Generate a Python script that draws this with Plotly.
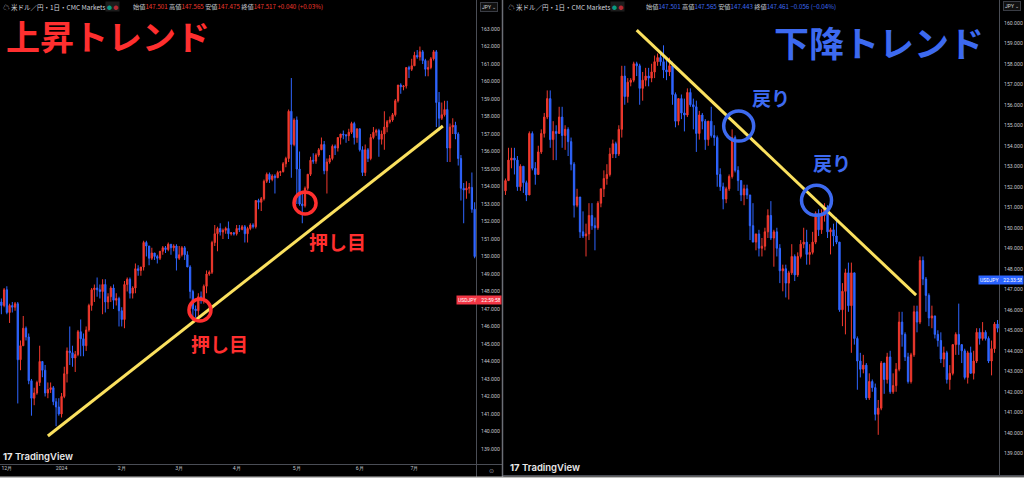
import plotly.graph_objects as go

W, H = 1024, 478

# ---------------- data : left panel (uptrend, daily USD/JPY) ----------------
left_open = [147.4, 147.2, 148.1, 146.8, 147.2, 147.1, 147.3, 144.1, 144.9, 145.9,
             145.4, 142.9, 141.9, 142.2, 142.8, 144.0, 143.5, 142.2, 142.4, 142.5,
             141.7, 141.4, 141.0, 142.0, 143.3, 144.6, 144.5, 144.2, 144.4, 145.7,
             145.3, 144.9, 145.8, 147.2, 148.1, 148.2, 148.1, 148.0, 148.4, 147.4,
             147.7, 148.2, 147.5, 147.6, 146.9, 146.4, 148.4, 148.7, 147.9, 148.2,
             149.3, 149.2, 149.4, 150.8, 150.6, 149.9, 150.2, 150.0, 149.9, 150.3,
             150.5, 150.4, 150.7, 150.5, 150.6, 149.9, 150.1, 150.5, 150.1, 149.4,
             148.0, 147.0, 146.9, 147.7, 147.6, 148.3, 149.0, 149.1, 150.8, 151.3,
             151.6, 151.4, 151.5, 151.6, 151.3, 151.35, 151.3, 151.6, 151.55, 151.7,
             151.3, 151.6, 151.8, 151.7, 153.2, 153.1, 153.3, 154.3, 154.7, 154.4,
             154.6, 154.5, 154.8, 154.85, 155.3, 155.6, 158.3, 156.4, 157.8, 155.0,
             153.0, 152.9, 153.9, 154.7, 155.5, 155.45, 155.8, 156.1, 156.4, 154.9,
             155.4, 155.6, 156.3, 156.2, 156.8, 157.0, 156.95, 156.9, 157.1, 157.6,
             156.8, 157.3, 156.1, 154.8, 156.1, 155.6, 156.8, 157.1, 157.2, 156.7,
             157.0, 157.4, 157.7, 157.8, 158.1, 158.9, 159.8, 159.7, 159.75, 160.8,
             160.7, 160.9, 161.5, 161.4, 161.7, 161.2, 160.7, 160.8, 161.3, 161.7,
             158.8, 157.9, 158.1, 158.4, 156.2, 157.4, 157.5, 157.0, 155.6, 153.9,
             153.8, 153.9, 153.95, 152.7]
left_high = [147.6, 148.2, 148.3, 147.3, 147.4, 147.4, 147.4, 145.2, 146.6, 146.0,
             145.6, 143.0, 142.5, 142.9, 144.9, 144.0, 143.8, 142.8, 142.8, 142.6,
             141.9, 141.9, 142.2, 143.7, 144.8, 146.0, 144.9, 144.6, 145.8, 146.4,
             145.6, 146.0, 147.3, 148.2, 148.4, 148.8, 148.4, 148.7, 148.7, 147.9,
             148.3, 148.4, 147.9, 147.7, 147.1, 148.6, 148.8, 148.8, 148.3, 149.6,
             149.5, 149.4, 150.9, 150.9, 150.6, 150.5, 150.2, 150.1, 150.3, 150.6,
             150.6, 150.8, 150.7, 150.7, 150.7, 150.6, 150.6, 150.6, 150.3, 149.5,
             148.1, 147.2, 147.9, 148.0, 148.4, 149.2, 149.2, 150.9, 151.8, 151.7,
             151.9, 151.6, 151.7, 152.0, 151.4, 151.4, 151.8, 151.8, 151.8, 151.8,
             151.7, 151.9, 151.9, 153.2, 153.3, 153.4, 154.4, 154.8, 154.8, 154.7,
             154.7, 154.9, 154.9, 155.4, 155.7, 158.4, 160.2, 157.9, 158.0, 156.0,
             153.6, 154.0, 154.7, 155.7, 155.9, 155.9, 156.2, 156.8, 156.6, 155.6,
             155.8, 156.4, 156.4, 156.8, 157.0, 157.2, 157.0, 157.3, 157.7, 157.7,
             157.3, 157.3, 156.3, 156.4, 156.2, 157.0, 157.4, 157.3, 157.3, 157.2,
             158.3, 157.8, 158.0, 158.2, 159.0, 159.8, 159.9, 159.8, 160.8, 160.9,
             161.3, 161.7, 161.8, 162.0, 161.8, 161.3, 161.2, 161.4, 161.8, 161.8,
             159.4, 158.8, 158.9, 158.9, 157.6, 157.9, 157.7, 157.1, 155.8, 154.2,
             154.3, 154.2, 154.8, 153.1]
left_low = [146.7, 147.1, 146.7, 146.2, 146.8, 146.9, 141.6, 143.5, 144.9, 145.2,
            142.7, 140.9, 141.5, 142.1, 142.6, 143.1, 142.0, 141.9, 142.2, 141.5,
            140.3, 140.9, 140.8, 141.9, 142.8, 143.8, 143.7, 143.4, 144.3, 144.3,
            144.3, 144.6, 145.7, 146.9, 147.4, 147.7, 147.6, 146.7, 146.8, 147.0,
            147.4, 147.0, 147.2, 146.0, 146.0, 145.9, 148.0, 147.6, 147.6, 147.9,
            148.9, 148.9, 149.2, 150.0, 149.5, 149.8, 149.8, 149.6, 149.8, 150.1,
            150.2, 150.3, 150.1, 150.3, 149.2, 149.8, 150.0, 149.8, 149.4, 147.6,
            146.5, 146.5, 146.6, 147.3, 147.3, 147.9, 148.9, 149.0, 150.6, 150.3,
            151.2, 151.0, 151.3, 151.0, 151.2, 151.2, 151.2, 151.4, 151.5, 150.8,
            150.8, 151.5, 151.6, 151.6, 152.7, 152.6, 153.2, 154.2, 154.2, 154.3,
            153.6, 154.5, 154.6, 154.8, 155.1, 155.4, 154.5, 156.3, 153.0, 152.9,
            151.9, 152.8, 153.8, 154.6, 155.3, 155.3, 155.7, 156.1, 154.7, 153.6,
            155.3, 155.5, 155.8, 156.0, 156.4, 156.7, 156.5, 156.6, 157.0, 156.4,
            156.5, 156.0, 154.6, 154.6, 155.4, 155.5, 156.7, 156.9, 155.7, 156.4,
            156.1, 157.1, 157.6, 157.7, 158.0, 158.8, 159.3, 159.5, 159.6, 160.2,
            160.6, 160.9, 161.3, 161.2, 161.0, 160.3, 160.3, 160.7, 161.2, 157.4,
            157.2, 157.8, 158.0, 155.4, 155.4, 157.0, 156.7, 155.2, 153.2, 151.9,
            153.3, 153.6, 152.5, 149.9]
left_close = [147.2, 148.1, 146.8, 147.2, 147.1, 147.3, 144.1, 144.9, 145.9, 145.4,
              142.9, 141.9, 142.2, 142.8, 144.0, 143.5, 142.2, 142.4, 142.5, 141.7,
              141.4, 141.0, 142.0, 143.3, 144.6, 144.5, 144.2, 144.4, 145.7, 145.3,
              144.9, 145.8, 147.2, 148.1, 148.2, 148.1, 148.0, 148.4, 147.4, 147.7,
              148.2, 147.5, 147.6, 146.9, 146.4, 148.4, 148.7, 147.9, 148.2, 149.3,
              149.2, 149.4, 150.8, 150.6, 149.9, 150.2, 150.0, 149.9, 150.3, 150.5,
              150.4, 150.7, 150.5, 150.6, 149.9, 150.1, 150.5, 150.1, 149.4, 148.0,
              147.0, 146.9, 147.7, 147.6, 148.3, 149.0, 149.1, 150.8, 151.3, 151.6,
              151.4, 151.5, 151.6, 151.3, 151.35, 151.3, 151.6, 151.55, 151.7, 151.3,
              151.6, 151.8, 151.7, 153.2, 153.1, 153.3, 154.3, 154.7, 154.4, 154.6,
              154.5, 154.8, 154.85, 155.3, 155.6, 158.3, 156.4, 157.8, 155.0, 153.0,
              152.9, 153.9, 154.7, 155.5, 155.45, 155.8, 156.1, 156.4, 154.9, 155.4,
              155.6, 156.3, 156.2, 156.8, 157.0, 156.95, 156.9, 157.1, 157.6, 156.8,
              157.3, 156.1, 154.8, 156.1, 155.6, 156.8, 157.1, 157.2, 156.7, 157.0,
              157.4, 157.7, 157.8, 158.1, 158.9, 159.8, 159.7, 159.75, 160.8, 160.7,
              160.9, 161.5, 161.4, 161.7, 161.2, 160.7, 160.8, 161.3, 161.7, 158.8,
              157.9, 158.1, 158.4, 156.2, 157.4, 157.5, 157.0, 155.6, 153.9, 153.8,
              153.9, 153.95, 152.7, 150.0]
left_month_idx = [2, 22, 44, 65, 86, 108, 131, 151]
left_month_lbl = ["12月", "2024", "2月", "3月", "4月", "5月", "6月", "7月"]
left_price_ticks = list(range(139, 164))
left_trend_x = [17.0, 161.4]
left_trend_y = [139.74, 157.46]
left_mark_x = [72.6, 111.0]
left_mark_y = [146.94, 153.06]
left_label_x = [79.9, 122.7]
left_label_y = [145.0, 150.83]
left_last_price = 147.517

# ---------------- data : right panel (downtrend, daily USD/JPY) ----------------
right_open = [151.8, 152.3, 153.3, 153.4, 153.3, 152.0, 153.0, 152.2, 151.6, 154.6,
              152.9, 152.6, 153.7, 154.6, 155.4, 156.3, 154.3, 154.7, 154.6, 155.4,
              154.5, 154.8, 154.2, 153.1, 151.1, 151.5, 149.8, 149.6, 149.7, 150.6,
              150.1, 150.0, 151.2, 151.9, 152.4, 152.6, 153.6, 154.1, 153.6, 154.8,
              157.4, 156.4, 157.1, 157.2, 158.0, 157.9, 156.8, 157.2, 157.4, 157.3,
              157.6, 158.1, 158.3, 158.1, 157.7, 157.6, 157.9, 156.5, 155.2, 156.3,
              155.6, 155.5, 156.6, 156.0, 155.9, 154.6, 155.5, 155.2, 154.3, 155.2,
              154.5, 154.4, 152.6, 152.0, 151.4, 151.9, 152.5, 154.4, 152.8, 152.3,
              151.6, 151.9, 151.6, 150.1, 149.3, 149.7, 149.0, 149.1, 149.8, 150.6,
              149.5, 149.8, 149.0, 147.9, 148.0, 147.3, 147.8, 148.6, 147.7, 148.6,
              149.2, 149.3, 148.7, 148.8, 149.3, 150.7, 149.9, 150.6, 151.0, 149.8,
              149.9, 149.6, 149.3, 146.0, 146.9, 147.8, 146.2, 147.8, 144.6, 143.5,
              143.1, 143.3, 141.7, 142.5, 142.2, 140.9, 141.2, 143.4, 142.6, 143.7,
              142.0, 142.3, 143.1, 145.4, 144.8, 143.7, 142.5, 143.8, 145.9, 145.4,
              148.4, 147.5, 146.7, 145.6, 145.7, 144.8, 144.5, 143.6, 143.9, 142.6,
              142.9, 144.3, 144.8, 144.3, 144.0, 142.7, 143.9, 142.9, 143.5, 144.9,
              144.6, 144.9, 144.6, 143.5, 144.1, 145.3]
right_high = [152.4, 153.9, 153.9, 153.9, 153.5, 153.1, 153.0, 152.3, 154.7, 154.7,
              153.2, 154.0, 154.8, 155.6, 156.7, 156.7, 155.2, 155.0, 155.9, 155.9,
              155.0, 154.9, 154.4, 153.2, 151.9, 151.5, 150.8, 150.2, 151.2, 151.2,
              150.5, 151.3, 151.9, 152.8, 153.1, 153.9, 154.3, 154.2, 155.0, 157.9,
              157.9, 157.3, 157.3, 158.1, 158.1, 158.0, 157.6, 157.8, 157.8, 158.0,
              158.4, 158.5, 158.5, 158.9, 158.2, 158.3, 158.1, 156.6, 156.3, 156.5,
              156.3, 156.8, 156.8, 156.3, 156.2, 155.7, 155.6, 155.3, 155.2, 155.9,
              155.0, 154.5, 152.9, 152.2, 152.0, 152.6, 154.8, 154.5, 153.0, 152.3,
              152.1, 152.1, 151.6, 151.2, 149.7, 149.9, 149.5, 150.0, 150.9, 151.3,
              149.9, 150.0, 149.2, 148.2, 148.2, 147.9, 149.2, 148.7, 148.8, 149.4,
              150.0, 149.9, 149.2, 149.8, 150.8, 150.9, 150.9, 151.2, 151.1, 150.0,
              150.2, 150.5, 149.3, 147.3, 148.0, 148.3, 148.3, 147.8, 144.7, 143.9,
              143.8, 143.4, 142.9, 142.6, 142.4, 141.6, 143.5, 143.4, 143.9, 144.0,
              142.9, 143.4, 145.9, 145.9, 144.9, 143.9, 143.9, 146.2, 146.2, 148.6,
              148.6, 147.6, 146.8, 146.2, 145.7, 145.0, 144.9, 144.2, 144.0, 143.3,
              144.3, 144.9, 146.3, 144.3, 144.1, 144.0, 144.2, 144.0, 145.1, 145.1,
              145.4, 145.0, 144.7, 144.5, 145.4, 145.5]
right_low = [151.6, 152.3, 152.9, 152.6, 151.8, 151.8, 151.7, 151.3, 151.6, 152.8,
             152.1, 152.6, 153.6, 154.4, 155.3, 153.9, 153.3, 153.3, 154.6, 153.9,
             153.8, 153.5, 152.8, 150.5, 151.0, 149.5, 149.5, 148.6, 149.4, 149.9,
             148.9, 149.9, 151.0, 151.5, 152.1, 152.5, 153.4, 153.4, 153.5, 154.4,
             156.0, 156.1, 156.9, 157.1, 157.4, 156.0, 156.2, 156.9, 156.9, 157.1,
             157.3, 157.9, 157.9, 157.3, 157.2, 157.4, 156.0, 154.9, 155.0, 155.3,
             154.7, 155.4, 155.9, 154.8, 153.7, 154.3, 154.8, 153.8, 154.0, 154.4,
             154.0, 152.0, 151.8, 150.9, 151.2, 151.8, 152.4, 152.7, 151.8, 151.3,
             151.1, 151.4, 149.4, 149.3, 148.9, 148.6, 148.6, 148.9, 149.5, 149.4,
             148.1, 148.6, 147.3, 146.9, 146.6, 146.5, 147.7, 147.4, 147.6, 148.5,
             149.0, 148.2, 148.2, 148.7, 149.2, 149.6, 149.7, 150.3, 149.5, 148.7,
             149.1, 149.2, 145.9, 145.2, 144.8, 145.9, 143.9, 144.3, 142.1, 142.7,
             142.9, 141.6, 141.6, 142.0, 140.6, 139.9, 141.1, 141.9, 142.4, 141.9,
             141.9, 142.0, 143.0, 144.2, 143.5, 142.4, 142.4, 143.7, 144.9, 145.3,
             147.2, 145.9, 145.2, 145.1, 144.6, 144.2, 143.4, 143.2, 142.4, 142.1,
             142.8, 143.8, 143.8, 143.4, 142.6, 142.4, 142.9, 142.6, 143.4, 144.3,
             144.5, 144.5, 143.4, 142.8, 143.9, 144.9]
right_close = [152.3, 153.3, 153.4, 153.3, 152.0, 153.0, 152.2, 151.6, 154.6, 152.9,
               152.6, 153.7, 154.6, 155.4, 156.3, 154.3, 154.7, 154.6, 155.4, 154.5,
               154.8, 154.2, 153.1, 151.1, 151.5, 149.8, 149.6, 149.7, 150.6, 150.1,
               150.0, 151.2, 151.9, 152.4, 152.6, 153.6, 154.1, 153.6, 154.8, 157.4,
               156.4, 157.1, 157.2, 158.0, 157.9, 156.8, 157.2, 157.4, 157.3, 157.6,
               158.1, 158.3, 158.1, 157.7, 157.6, 157.9, 156.5, 155.2, 156.3, 155.6,
               155.5, 156.6, 156.0, 155.9, 154.6, 155.5, 155.2, 154.3, 155.2, 154.5,
               154.4, 152.6, 152.0, 151.4, 151.9, 152.5, 154.4, 152.8, 152.3, 151.6,
               151.9, 151.6, 150.1, 149.3, 149.7, 149.0, 149.1, 149.8, 150.6, 149.5,
               149.8, 149.0, 147.9, 148.0, 147.3, 147.8, 148.6, 147.7, 148.6, 149.2,
               149.3, 148.7, 148.8, 149.3, 150.7, 149.9, 150.6, 151.0, 149.8, 149.9,
               149.6, 149.3, 146.0, 146.9, 147.8, 146.2, 147.8, 144.6, 143.5, 143.1,
               143.3, 141.7, 142.5, 142.2, 140.9, 141.2, 143.4, 142.6, 143.7, 142.0,
               142.3, 143.1, 145.4, 144.8, 143.7, 142.5, 143.8, 145.9, 145.4, 148.4,
               147.5, 146.7, 145.6, 145.7, 144.8, 144.5, 143.6, 143.9, 142.6, 142.9,
               144.3, 144.8, 144.3, 144.0, 142.7, 143.9, 142.9, 143.5, 144.9, 144.6,
               144.9, 144.6, 143.5, 144.1, 145.3, 145.1]
right_price_ticks = list(range(139, 161))
right_trend_x = [44.0, 137.7]
right_trend_y = [159.64, 146.71]
right_mark_x = [78.2, 104.3]
right_mark_y = [154.96, 151.34]
right_label_x = [88.9, 109.6]
right_label_y = [156.33, 153.2]
right_last_price = 147.461

# ---------------- styling ----------------
RED = "#f0392e"
BLUE = "#2f65ff"
YEL = "#fbe15f"
TXT = "#c3c6ce"
JP = "Noto Sans CJK JP"


def px(x):
    return x / W


def py(y):
    return 1 - y / H


fig = go.Figure()

fig.add_trace(go.Candlestick(
    x=list(range(len(left_close))), open=left_open, high=left_high, low=left_low, close=left_close,
    increasing=dict(line=dict(color=RED, width=1), fillcolor=RED),
    decreasing=dict(line=dict(color=BLUE, width=1), fillcolor=BLUE),
    whiskerwidth=0, xaxis="x", yaxis="y", showlegend=False, hoverinfo="skip"))
fig.add_trace(go.Candlestick(
    x=list(range(len(right_close))), open=right_open, high=right_high, low=right_low, close=right_close,
    increasing=dict(line=dict(color=RED, width=1), fillcolor=RED),
    decreasing=dict(line=dict(color=BLUE, width=1), fillcolor=BLUE),
    whiskerwidth=0, xaxis="x2", yaxis="y2", showlegend=False, hoverinfo="skip"))

fig.add_trace(go.Scatter(x=left_trend_x, y=left_trend_y, mode="lines",
                         line=dict(color=YEL, width=3), xaxis="x", yaxis="y",
                         showlegend=False, hoverinfo="skip"))
fig.add_trace(go.Scatter(x=right_trend_x, y=right_trend_y, mode="lines",
                         line=dict(color=YEL, width=3), xaxis="x2", yaxis="y2",
                         showlegend=False, hoverinfo="skip"))

shapes = []
for cx, cy in zip(left_mark_x, left_mark_y):
    shapes.append(dict(type="circle", xref="x", yref="y", xsizemode="pixel", ysizemode="pixel",
                       xanchor=cx, yanchor=cy, x0=-11, x1=11, y0=-11, y1=11,
                       line=dict(color="#ff2f2f", width=3.5)))
for cx, cy in zip(right_mark_x, right_mark_y):
    shapes.append(dict(type="circle", xref="x2", yref="y2", xsizemode="pixel", ysizemode="pixel",
                       xanchor=cx, yanchor=cy, x0=-15, x1=15, y0=-15, y1=15,
                       line=dict(color="#3d6af0", width=3.5)))

GRAY = "#4a4d55"
# frame lines of the two TradingView panels
shapes += [
    dict(type="line", xref="paper", yref="paper", x0=px(476.5), x1=px(476.5), y0=py(0), y1=py(477),
         line=dict(color=GRAY, width=1)),
    dict(type="line", xref="paper", yref="paper", x0=px(0), x1=px(502), y0=py(464.5), y1=py(464.5),
         line=dict(color=GRAY, width=1)),
    dict(type="line", xref="paper", yref="paper", x0=px(502.5), x1=px(502.5), y0=py(0), y1=py(478),
         line=dict(color="#6b6e76", width=1.5)),
    dict(type="line", xref="paper", yref="paper", x0=px(999.5), x1=px(999.5), y0=py(0), y1=py(476),
         line=dict(color=GRAY, width=1)),
    dict(type="line", xref="paper", yref="paper", x0=px(503), x1=px(1024), y0=py(475.5), y1=py(475.5),
         line=dict(color=GRAY, width=1)),
    dict(type="rect", xref="paper", yref="paper", x0=0, x1=1, y0=0, y1=py(476.5),
         fillcolor="#bdbdbd", line=dict(width=0)),
]

ann = []
# big titles
ann.append(dict(text="<b>上昇トレンド</b>", xref="paper", yref="paper", x=px(4), y=py(35),
                xanchor="left", yanchor="middle", showarrow=False,
                font=dict(family=JP, size=34, color="#ff2f2f")))
ann.append(dict(text="<b>下降トレンド</b>", xref="paper", yref="paper", x=px(986), y=py(42),
                xanchor="right", yanchor="middle", showarrow=False,
                font=dict(family=JP, size=35, color="#3d6af0")))
# labels near the circles
for lx, ly in zip(left_label_x, left_label_y):
    ann.append(dict(text="<b>押し目</b>", xref="x", yref="y", x=lx, y=ly, showarrow=False,
                    xanchor="center", yanchor="middle",
                    font=dict(family=JP, size=19, color="#ff2f2f")))
for lx, ly in zip(right_label_x, right_label_y):
    ann.append(dict(text="<b>戻り</b>", xref="x2", yref="y2", x=lx, y=ly, showarrow=False,
                    xanchor="center", yanchor="middle",
                    font=dict(family=JP, size=19, color="#3d6af0")))

# header rows
def header(x0, xv, vals, col):
    lab = ["始値", "高値", "安値", "終値"]
    parts = []
    for l, v in zip(lab, vals[:4]):
        parts.append(f'<span style="color:{TXT}">{l}</span><span style="color:{col}">{v}</span>')
    parts.append(f'<span style="color:{col}">{vals[4]}</span>')
    ann.append(dict(text="☁ 米ドル／円・1日・CMC Markets", xref="paper", yref="paper",
                    x=px(x0), y=py(7), xanchor="left", yanchor="middle", showarrow=False,
                    font=dict(family=JP, size=6.5, color="#d1d4dc")))
    ann.append(dict(text='<span style="color:#089981">●</span> <span style="color:#b22833">●</span>',
                    xref="paper", yref="paper", x=px(x0 + 104), y=py(7), xanchor="left",
                    yanchor="middle", showarrow=False, font=dict(family=JP, size=5),
                    bgcolor="#1c1c1c"))
    ann.append(dict(text=" ".join(parts), xref="paper", yref="paper", x=px(xv), y=py(7),
                    xanchor="left", yanchor="middle", showarrow=False,
                    font=dict(family=JP, size=6.2)))

header(1, 131, ["147.501", "147.565", "147.475", "147.517", "+0.040 (+0.03%)"], RED)
header(506, 644, ["147.501", "147.565", "147.443", "147.461", "−0.056 (−0.04%)"], "#3d6af0")

# currency boxes
for xc, yc in [(489, 7), (1012, 6)]:
    ann.append(dict(text="JPY ⌄", xref="paper", yref="paper", x=px(xc), y=py(yc),
                    xanchor="center", yanchor="middle", showarrow=False,
                    font=dict(family="Roboto", size=5, color="#d1d4dc"),
                    bordercolor="#3a3d45", borderwidth=1, borderpad=1, bgcolor="#101010"))

# last price tags
ann.append(dict(text="USDJPY&nbsp;&nbsp;&nbsp;&nbsp;22:59:58", xref="paper", yref="y",
                x=px(456), y=left_last_price, xanchor="left", yanchor="middle", showarrow=False,
                font=dict(family="Roboto", size=5, color="white"), bgcolor="#f23645",
                borderpad=1, width=42, align="left"))
ann.append(dict(text="USDJPY&nbsp;&nbsp;&nbsp;&nbsp;22:33:58", xref="paper", yref="y2",
                x=px(978), y=right_last_price, xanchor="left", yanchor="middle", showarrow=False,
                font=dict(family="Roboto", size=5, color="white"), bgcolor="#2962ff",
                borderpad=1, width=42, align="left"))

# TradingView marks
ann.append(dict(text="<b>17</b> TradingView", xref="paper", yref="paper", x=px(1), y=py(456),
                xanchor="left", yanchor="middle", showarrow=False,
                font=dict(family="Inter", size=9.5, color="#e8e8e8", weight=600)))
ann.append(dict(text="<b>17</b> TradingView", xref="paper", yref="paper", x=px(508), y=py(467),
                xanchor="left", yanchor="middle", showarrow=False,
                font=dict(family="Inter", size=9.5, color="#e8e8e8", weight=600)))
ann.append(dict(text="⊙", xref="paper", yref="paper", x=px(491), y=py(470),
                xanchor="center", yanchor="middle", showarrow=False,
                font=dict(family="DejaVu Sans", size=6, color="#9598a1")))

fig.update_layout(
    width=W, height=H, margin=dict(l=0, r=0, t=0, b=0),
    paper_bgcolor="#000000", plot_bgcolor="#000000",
    showlegend=False, hovermode=False, dragmode=False, boxgap=0.34,
    shapes=shapes, annotations=ann,
    xaxis=dict(domain=[0, px(476)], range=[-0.5, len(left_close) - 0.5], anchor="y",
               tickvals=left_month_idx, ticktext=left_month_lbl, ticks="",
               tickfont=dict(family="Roboto", size=5.2, color=TXT),
               showgrid=False, zeroline=False, showline=False,
               rangeslider=dict(visible=False), fixedrange=True),
    yaxis=dict(domain=[1 - 464 / H, 1], range=[138.14, 164.66], anchor="x", side="right",
               tickvals=left_price_ticks, tickformat=".3f", ticks="",
               tickfont=dict(family="Roboto", size=5.2, color=TXT), ticklabelstandoff=4,
               showgrid=False, zeroline=False, showline=False, fixedrange=True),
    xaxis2=dict(domain=[px(504), px(999)], range=[-0.5, len(right_close) - 0.5], anchor="y2",
                showticklabels=False, ticks="", showgrid=False, zeroline=False, showline=False,
                rangeslider=dict(visible=False), fixedrange=True),
    yaxis2=dict(domain=[1 - 475 / H, 1], range=[137.94, 161.11], anchor="x2", side="right",
                tickvals=right_price_ticks, tickformat=".3f", ticks="",
                tickfont=dict(family="Roboto", size=5.2, color=TXT), ticklabelstandoff=4,
                showgrid=False, zeroline=False, showline=False, fixedrange=True),
)

fig.write_html("out.html", config={"displayModeBar": False, "staticPlot": True},
               post_script="document.body.style.margin='0';document.body.style.overflow='hidden';")
